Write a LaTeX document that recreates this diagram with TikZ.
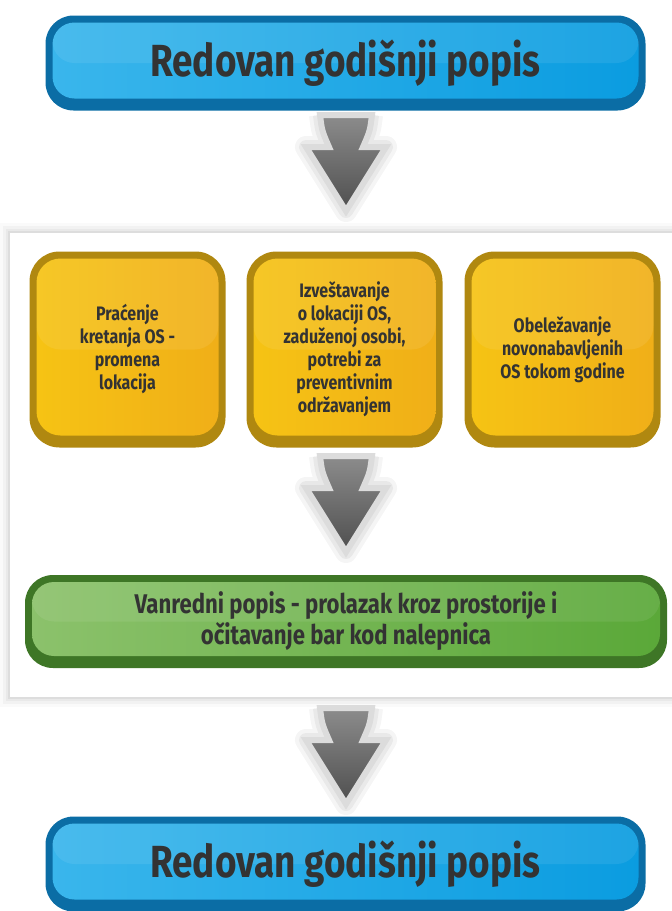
\documentclass[tikz,border=0pt]{standalone}
\usepackage{fontspec}
\newfontfamily\cf[FakeStretch=0.82]{Fira Sans}
\usetikzlibrary{calc}
\definecolor{txt}{HTML}{333333}
\definecolor{blueedge}{HTML}{0B6DA5}
\definecolor{blueL}{HTML}{3AB6EC}
\definecolor{blueR}{HTML}{0A9CE0}
\definecolor{yedge}{HTML}{B08810}
\definecolor{yL}{HTML}{F6C414}
\definecolor{yR}{HTML}{F0AE18}
\definecolor{gedge}{HTML}{3E7626}
\definecolor{gL}{HTML}{8CC26C}
\definecolor{gR}{HTML}{5AA838}
\definecolor{arrowedge}{HTML}{DCDCDC}
\definecolor{arrowtop}{HTML}{8C8C8C}
\definecolor{arrowbot}{HTML}{4E4E4E}
\tikzset{
  gloss/.style n args={4}{rounded corners=#4, fill=#1, draw=none, text=txt,
    path picture={
      \shade[left color=#2, right color=#3, rounded corners=#4-6pt]
        ([xshift=7pt,yshift=12pt]path picture bounding box.south west) rectangle
        ([xshift=-7pt,yshift=-7pt]path picture bounding box.north east);
      \fill[white, opacity=0.08, rounded corners=#4-6pt]
        ([xshift=7pt,yshift=-7pt]path picture bounding box.north west) rectangle
        ([xshift=-7pt]path picture bounding box.east);
    }},
  bluebox/.style={gloss={blueedge}{blueL}{blueR}{28pt}, minimum width=600pt, minimum height=95pt,
    font=\cf\bfseries\fontsize{45}{50}\selectfont},
  ybox/.style={gloss={yedge}{yL}{yR}{30pt}, minimum width=196pt, minimum height=196pt,
    align=center, font=\cf\bfseries\fontsize{19.5}{23}\selectfont},
  gbox/.style={gloss={gedge}{gL}{gR}{28pt}, minimum width=642pt, minimum height=93pt,
    align=center, font=\cf\bfseries\fontsize{27}{31}\selectfont},
}
\newcommand\grayarrow[2]{%
  \begin{scope}[shift={(#1,#2)}]
    \path[draw=black, opacity=0.04, line width=22pt, line join=round]
      (-26,0) .. controls (-24,16) .. (-17,32) -- (-40,32) -- (0,96) -- (40,32) -- (17,32) .. controls (24,16) .. (26,0);
    \path[draw=black, opacity=0.05, line width=14pt, line join=round]
      (-26,0) .. controls (-24,16) .. (-17,32) -- (-40,32) -- (0,96) -- (40,32) -- (17,32) .. controls (24,16) .. (26,0);
    \shade[top color=arrowtop, bottom color=arrowbot, draw=arrowedge, line width=6pt, line join=miter]
      (-26,0) .. controls (-24,16) .. (-17,32) -- (-40,32) -- (0,96) -- (40,32) -- (17,32) .. controls (24,16) .. (26,0) -- cycle;
  \end{scope}}
\begin{document}
\begin{tikzpicture}[x=1pt,y=-1pt]
\useasboundingbox (0,0) rectangle (672,911);
% panel shadow
\foreach \d/\o in {10/0.02,7/0.03,4/0.04,2/0.05}{
  \fill[black,opacity=\o] (10-\d,233-\d) rectangle (672,697+\d);
}
\fill[white] (10,233) rectangle (672,697);
% arrows
\grayarrow{346}{115}
\grayarrow{346}{456}
\grayarrow{346}{708}
% boxes
\node[bluebox] (top) at (345.5,63) {Redovan godišnji popis};
\node[ybox] (y1) at (127.5,349.5) {Praćenje\\kretanja OS -\\promena\\lokacija};
\node[ybox] (y2) at (344.5,349.5) {Izveštavanje\\o lokaciji OS,\\zaduženoj osobi,\\potrebi za\\preventivnim\\održavanjem};
\node[ybox] (y3) at (562.5,349.5) {Obeležavanje\\novonabavljenih\\OS tokom godine};
\node[gbox] (mid) at (346,621.5) {Vanredni popis - prolazak kroz prostorije i\\očitavanje bar kod nalepnica};
\node[bluebox] (bot) at (345.5,864) {Redovan godišnji popis};
\end{tikzpicture}
\end{document}
